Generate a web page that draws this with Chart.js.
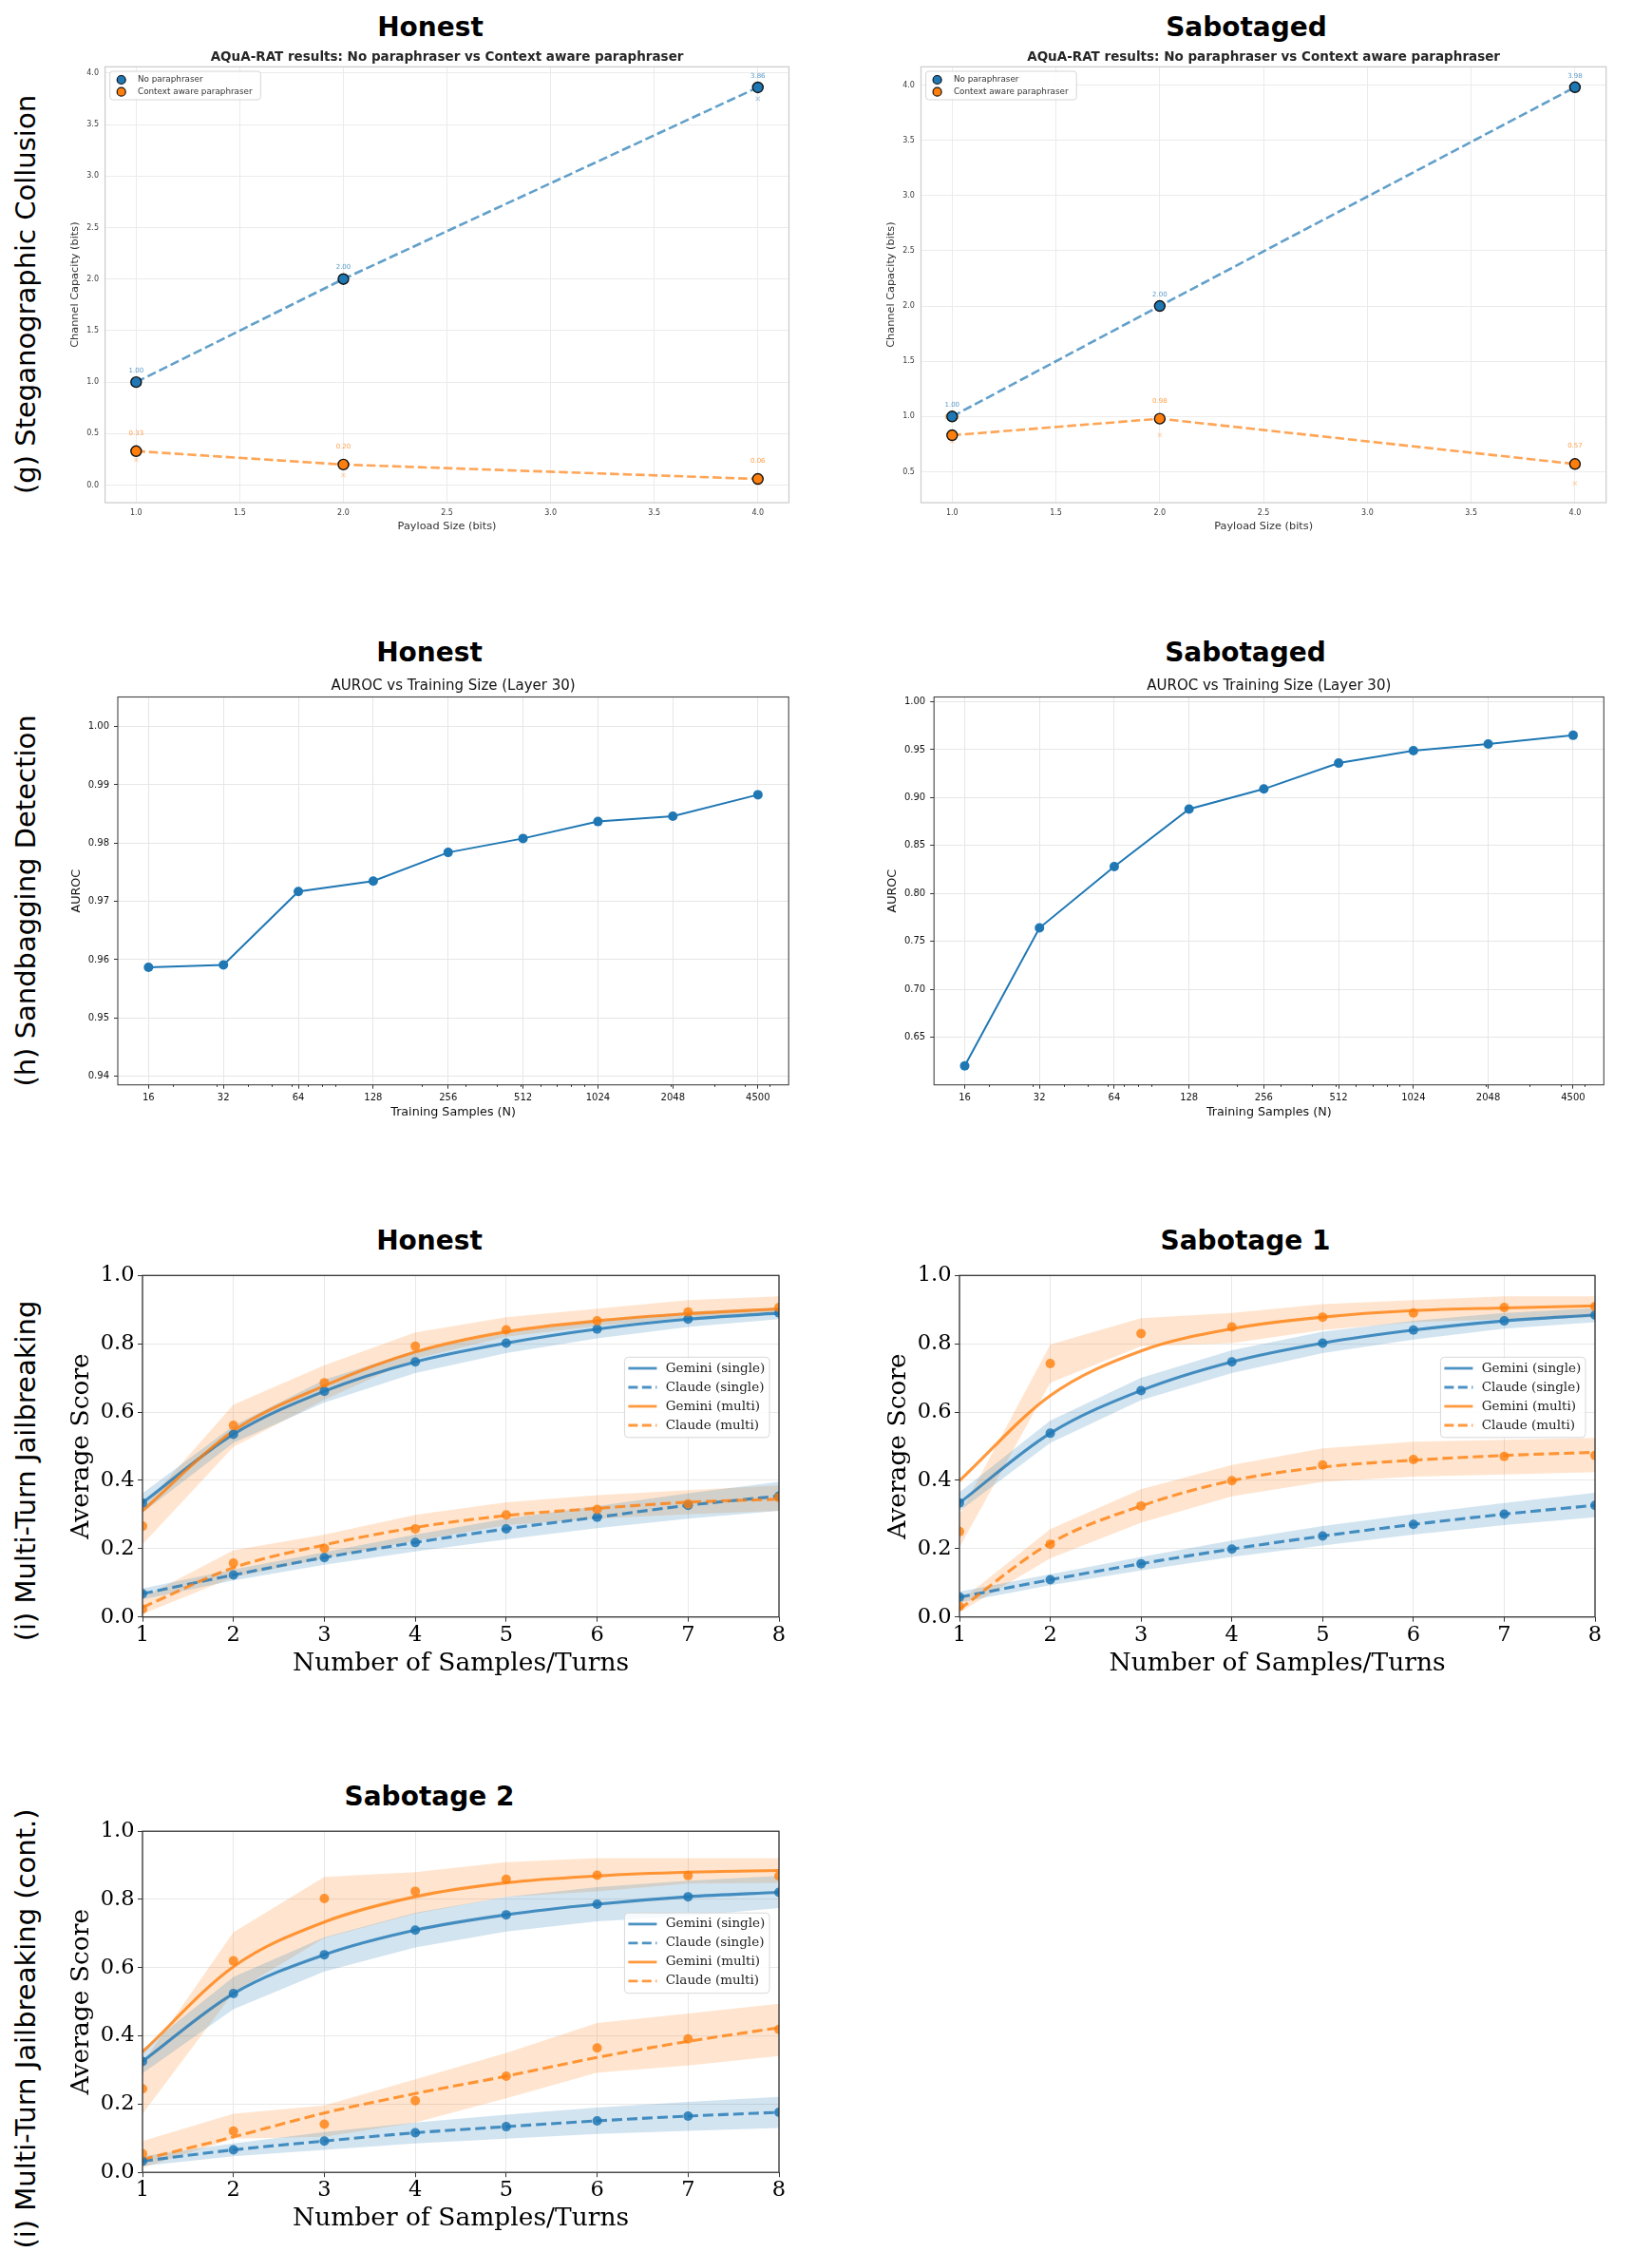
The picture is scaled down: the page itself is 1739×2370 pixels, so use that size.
<!DOCTYPE html>
<html>
<head>
<meta charset="utf-8">
<script src="https://cdn.jsdelivr.net/npm/chart.js@4.4.1/dist/chart.umd.min.js"></script>
<style>
  body { margin: 0; background: #fff; width: 1739px; height: 2370px; position: relative; overflow: hidden; }
  .ptitle { position: absolute; font: bold 28px "DejaVu Sans"; color: #000; white-space: nowrap; transform: translate(-50%, -50%); }
  .rowlabel { position: absolute; font: 29px "DejaVu Sans"; color: #000; white-space: nowrap; transform: translate(-50%, -50%) rotate(-90deg); }
  canvas { position: absolute; }
</style>
</head>
<body>

<div class="rowlabel" style="left:27px;top:310px">(g) Steganographic Collusion</div>
<div class="rowlabel" style="left:27px;top:948px">(h) Sandbagging Detection</div>
<div class="rowlabel" style="left:27px;top:1548px">(i) Multi-Turn Jailbreaking</div>
<div class="rowlabel" style="left:27px;top:2135px">(i) Multi-Turn Jailbreaking (cont.)</div>

<div class="ptitle" style="left:453px;top:28px">Honest</div>
<div class="ptitle" style="left:1312px;top:28px">Sabotaged</div>
<div class="ptitle" style="left:452px;top:686px">Honest</div>
<div class="ptitle" style="left:1311px;top:686px">Sabotaged</div>
<div class="ptitle" style="left:452px;top:1305px">Honest</div>
<div class="ptitle" style="left:1311px;top:1305px">Sabotage 1</div>
<div class="ptitle" style="left:452px;top:1890px">Sabotage 2</div>

<canvas id="capHonest" style="left:40px;top:40px" width="810" height="540"></canvas>
<canvas id="capSab" style="left:900px;top:40px" width="810" height="540"></canvas>
<canvas id="aurocHon" style="left:50px;top:700px" width="800" height="500"></canvas>
<canvas id="aurocSab" style="left:910px;top:700px" width="800" height="500"></canvas>
<canvas id="jbHonest" style="left:60px;top:1320px" width="790" height="450"></canvas>
<canvas id="jbSab1" style="left:920px;top:1320px" width="790" height="450"></canvas>
<canvas id="jbSab2" style="left:60px;top:1905px" width="790" height="450"></canvas>

<script>
// ---- (g) steganographic collusion, AQuA-RAT ----
const payloadBits = [1, 2, 4];
const payloadTicks = [1, 1.5, 2, 2.5, 3, 3.5, 4];
const honNoPara = [1.00, 2.00, 3.86];
const honCtxPara = [0.33, 0.20, 0.06];
const honNoParaX = [null, null, 3.75];     // faint x markers
const honCtxParaX = [0.245, 0.098, 0.02];
const sabNoPara = [1.00, 2.00, 3.98];
const sabCtxPara = [0.83, 0.98, 0.57];
const sabNoParaX = [null, null, null];
const sabCtxParaX = [0.776, 0.833, 0.394];
const capHonTicks = [0, 0.5, 1, 1.5, 2, 2.5, 3, 3.5, 4];
const capSabTicks = [0.5, 1, 1.5, 2, 2.5, 3, 3.5, 4];

// ---- (h) sandbagging detection ----
const trainSizes = [16, 32, 64, 128, 256, 512, 1024, 2048, 4500];
const aurocHonest = [0.9587, 0.9591, 0.9717, 0.9735, 0.9784, 0.9808, 0.9837, 0.9846, 0.9883];
const aurocSabotaged = [0.620, 0.764, 0.828, 0.888, 0.909, 0.936, 0.949, 0.956, 0.965];
const aurocHonTicks = [0.94, 0.95, 0.96, 0.97, 0.98, 0.99, 1.00];
const aurocSabTicks = [0.65, 0.70, 0.75, 0.80, 0.85, 0.90, 0.95, 1.00];
const minorTickVals = [20, 30, 40, 50, 60, 70, 80, 90, 200, 300, 400, 500, 600, 700, 800, 900, 2000, 3000, 4000, 5000];

// ---- (i) multi-turn jailbreaking ----
const turns = [1, 2, 3, 4, 5, 6, 7, 8];
const scoreTicks = [0, 0.2, 0.4, 0.6, 0.8, 1.0];

// Honest
const honGemSingle   = [0.334, 0.535, 0.661, 0.747, 0.802, 0.843, 0.872, 0.890];
const honGemSingleLo = [0.305, 0.510, 0.628, 0.714, 0.773, 0.816, 0.849, 0.872];
const honGemSingleHi = [0.362, 0.560, 0.695, 0.779, 0.831, 0.868, 0.893, 0.906];
const honClaSingle   = [0.068, 0.123, 0.174, 0.218, 0.258, 0.292, 0.327, 0.354];
const honClaSingleLo = [0.051, 0.107, 0.153, 0.192, 0.227, 0.260, 0.288, 0.311];
const honClaSingleHi = [0.083, 0.139, 0.190, 0.241, 0.288, 0.325, 0.362, 0.396];
const honGemMultiDots = [0.266, 0.561, 0.686, 0.793, 0.841, 0.867, 0.893, 0.906];
const honGemMultiFit  = [0.311, 0.545, 0.677, 0.776, 0.835, 0.867, 0.888, 0.902];
const honGemMultiLo   = [0.213, 0.498, 0.636, 0.756, 0.821, 0.852, 0.877, 0.890];
const honGemMultiHi   = [0.320, 0.622, 0.737, 0.833, 0.878, 0.903, 0.928, 0.939];
const honClaMultiDots = [0.023, 0.158, 0.201, 0.258, 0.299, 0.315, 0.331, 0.350];
const honClaMultiFit  = [0.028, 0.144, 0.211, 0.262, 0.297, 0.318, 0.336, 0.345];
const honClaMultiLo   = [0.009, 0.116, 0.172, 0.223, 0.269, 0.288, 0.301, 0.311];
const honClaMultiHi   = [0.056, 0.195, 0.241, 0.299, 0.336, 0.357, 0.371, 0.385];

// Sabotage 1
const s1GemSingle   = [0.334, 0.538, 0.663, 0.747, 0.802, 0.840, 0.867, 0.884];
const s1GemSingleLo = [0.310, 0.510, 0.635, 0.714, 0.773, 0.812, 0.844, 0.863];
const s1GemSingleHi = [0.365, 0.575, 0.700, 0.781, 0.835, 0.867, 0.890, 0.904];
const s1ClaSingle   = [0.058, 0.109, 0.156, 0.199, 0.237, 0.271, 0.301, 0.327];
const s1ClaSingleLo = [0.042, 0.093, 0.136, 0.176, 0.209, 0.241, 0.269, 0.292];
const s1ClaSingleHi = [0.074, 0.125, 0.176, 0.224, 0.266, 0.301, 0.334, 0.364];
const s1GemMultiDots = [0.250, 0.742, 0.830, 0.849, 0.878, 0.890, 0.906, 0.909];
const s1GemMultiFit  = [0.399, 0.648, 0.779, 0.844, 0.878, 0.897, 0.905, 0.911];
const s1GemMultiLo   = [0.204, 0.686, 0.793, 0.802, 0.840, 0.863, 0.872, 0.877];
const s1GemMultiHi   = [0.300, 0.798, 0.875, 0.890, 0.916, 0.928, 0.939, 0.939];
const s1ClaMultiDots = [0.031, 0.213, 0.325, 0.399, 0.445, 0.461, 0.470, 0.473];
const s1ClaMultiFit  = [0.023, 0.216, 0.325, 0.399, 0.439, 0.459, 0.473, 0.482];
const s1ClaMultiLo   = [0.014, 0.172, 0.276, 0.353, 0.396, 0.411, 0.417, 0.424];
const s1ClaMultiHi   = [0.046, 0.257, 0.374, 0.445, 0.494, 0.513, 0.519, 0.524];

// Sabotage 2
const s2GemSingle   = [0.325, 0.524, 0.638, 0.710, 0.755, 0.786, 0.808, 0.821];
const s2GemSingleLo = [0.290, 0.478, 0.589, 0.659, 0.706, 0.736, 0.751, 0.775];
const s2GemSingleHi = [0.360, 0.573, 0.689, 0.761, 0.808, 0.836, 0.855, 0.869];
const s2ClaSingle   = [0.033, 0.066, 0.092, 0.116, 0.134, 0.151, 0.165, 0.176];
const s2ClaSingleLo = [0.019, 0.047, 0.066, 0.085, 0.099, 0.113, 0.122, 0.130];
const s2ClaSingleHi = [0.047, 0.085, 0.118, 0.146, 0.169, 0.190, 0.207, 0.221];
const s2GemMultiDots = [0.245, 0.620, 0.803, 0.824, 0.859, 0.871, 0.870, 0.869];
const s2GemMultiFit  = [0.353, 0.603, 0.734, 0.808, 0.849, 0.869, 0.880, 0.885];
const s2GemMultiLo   = [0.171, 0.527, 0.687, 0.758, 0.808, 0.824, 0.847, 0.849];
const s2GemMultiHi   = [0.320, 0.704, 0.866, 0.880, 0.909, 0.921, 0.921, 0.921];
const s2ClaMultiDots = [0.055, 0.121, 0.141, 0.210, 0.282, 0.365, 0.391, 0.419];
const s2ClaMultiFit  = [0.038, 0.104, 0.174, 0.231, 0.282, 0.337, 0.384, 0.424];
const s2ClaMultiLo   = [0.014, 0.099, 0.104, 0.146, 0.217, 0.292, 0.313, 0.341];
const s2ClaMultiHi   = [0.092, 0.172, 0.196, 0.273, 0.350, 0.438, 0.466, 0.494];

const BLUE = '#1f77b4', ORANGE = '#ff7f0e';
const blueA = a => `rgba(31,119,180,${a})`;
const orangeA = a => `rgba(255,127,14,${a})`;

Chart.defaults.font.family = "'DejaVu Sans', sans-serif";
Chart.defaults.animation = false;

function pts(xs, ys) {
  return xs.map((x, i) => ({ x: x, y: ys[i] })).filter(p => p.y !== null);
}

function axis(o) {
  return {
    type: o.type || 'linear',
    min: o.min, max: o.max,
    afterBuildTicks: s => { s.ticks = o.ticks.map(v => ({ value: v })); },
    afterFit: s => {
      if (o.w !== undefined) s.width = o.w;
      if (o.h !== undefined) s.height = o.h;
    },
    ticks: { autoSkip: false, maxRotation: 0, minRotation: 0, font: o.font, color: o.color, padding: o.pad, callback: o.fmt },
    grid: { color: o.grid, lineWidth: 1, drawTicks: o.tickLen > 0, tickLength: o.tickLen || 0, tickColor: o.tickColor || o.grid, tickWidth: 1 },
    border: { display: false },
    title: { display: true, text: o.title, font: o.titleFont, color: o.titleColor || o.color, padding: o.titlePad }
  };
}

function roundRect(ctx, x, y, w, h, r) {
  ctx.beginPath();
  ctx.moveTo(x + r, y);
  ctx.lineTo(x + w - r, y); ctx.arcTo(x + w, y, x + w, y + r, r);
  ctx.lineTo(x + w, y + h - r); ctx.arcTo(x + w, y + h, x + w - r, y + h, r);
  ctx.lineTo(x + r, y + h); ctx.arcTo(x, y + h, x, y + h - r, r);
  ctx.lineTo(x, y + r); ctx.arcTo(x, y, x + r, y, r);
  ctx.closePath();
}

// per-chart decoration: chart title, full frame, legend, value labels, minor ticks
function decor(cfg) {
  return {
    id: 'decor',
    beforeDatasetsDraw(chart) {
      const ctx = chart.ctx;
      (cfg.valueLabels || []).forEach(l => {
        ctx.save();
        ctx.font = l.font; ctx.fillStyle = l.color;
        ctx.textAlign = 'center'; ctx.textBaseline = 'middle';
        l.xs.forEach((x, i) => {
          const px = chart.scales.x.getPixelForValue(x);
          const py = chart.scales.y.getPixelForValue(l.ys[i]);
          ctx.fillText(l.ys[i].toFixed(2), px, py - l.dy);
        });
        ctx.restore();
      });
    },
    afterDatasetsDraw(chart) {
      const ctx = chart.ctx, a = chart.chartArea;
      ctx.save();
      if (cfg.frame) {
        ctx.strokeStyle = cfg.frame.color; ctx.lineWidth = cfg.frame.width;
        ctx.strokeRect(a.left, a.top, a.right - a.left, a.bottom - a.top);
      }
      if (cfg.minorTicks) {
        ctx.strokeStyle = '#333'; ctx.lineWidth = 1;
        cfg.minorTicks.forEach(v => {
          const px = Math.round(chart.scales.x.getPixelForValue(v)) + 0.5;
          if (px < a.left || px > a.right) return;
          ctx.beginPath(); ctx.moveTo(px, a.bottom); ctx.lineTo(px, a.bottom + 2.2); ctx.stroke();
        });
      }
      if (cfg.title) {
        ctx.font = cfg.title.font; ctx.fillStyle = cfg.title.color;
        ctx.textAlign = 'center'; ctx.textBaseline = 'middle';
        ctx.fillText(cfg.title.text, (a.left + a.right) / 2, cfg.title.y);
      }
      if (cfg.legend) {
        const lg = cfg.legend;
        const x0 = lg.right ? a.right - lg.dx - lg.w : a.left + lg.dx;
        const y0 = a.top + lg.dy;
        roundRect(ctx, x0, y0, lg.w, lg.h, lg.r);
        ctx.fillStyle = 'rgba(255,255,255,0.85)'; ctx.fill();
        ctx.strokeStyle = lg.border; ctx.lineWidth = 1; ctx.stroke();
        ctx.font = lg.font; ctx.textAlign = 'left'; ctx.textBaseline = 'middle';
        lg.items.forEach((it, i) => {
          const cy = y0 + lg.first + i * lg.step;
          if (it.marker) {
            ctx.beginPath(); ctx.arc(x0 + lg.symX, cy, lg.mr, 0, Math.PI * 2);
            ctx.fillStyle = it.color; ctx.fill();
            ctx.strokeStyle = '#111'; ctx.lineWidth = 1.2; ctx.stroke();
          } else {
            ctx.beginPath(); ctx.setLineDash(it.dash || []);
            ctx.moveTo(x0 + lg.symX, cy); ctx.lineTo(x0 + lg.symX + lg.symW, cy);
            ctx.strokeStyle = it.color; ctx.lineWidth = 2.8; ctx.stroke();
            ctx.setLineDash([]);
          }
          ctx.fillStyle = lg.textColor;
          ctx.fillText(it.text, x0 + lg.textX, cy);
        });
      }
      ctx.restore();
    }
  };
}

// ---------- (g) ----------
function capacityChart(id, noPara, ctxPara, noParaX, ctxParaX, yMin, yMax, yTicks, g) {
  const sans = s => ({ family: 'DejaVu Sans', size: s });
  new Chart(document.getElementById(id), {
    type: 'line',
    data: {
      datasets: [
        { data: pts(payloadBits, noPara), showLine: false, pointRadius: 5.5, pointBackgroundColor: BLUE, pointBorderColor: '#111', pointBorderWidth: 1.4, order: 0 },
        { data: pts(payloadBits, ctxPara), showLine: false, pointRadius: 5.5, pointBackgroundColor: ORANGE, pointBorderColor: '#111', pointBorderWidth: 1.4, order: 0 },
        { data: pts(payloadBits, noPara), borderColor: blueA(0.7), borderWidth: 2.6, borderDash: [9.5, 4], pointRadius: 0, order: 1 },
        { data: pts(payloadBits, ctxPara), borderColor: orangeA(0.7), borderWidth: 2.6, borderDash: [9.5, 4], pointRadius: 0, order: 1 },
        { data: pts(payloadBits, noParaX), showLine: false, pointStyle: 'crossRot', pointRadius: 3, pointBorderColor: blueA(0.3), pointBorderWidth: 1.2, order: 2 },
        { data: pts(payloadBits, ctxParaX), showLine: false, pointStyle: 'crossRot', pointRadius: 3, pointBorderColor: orangeA(0.3), pointBorderWidth: 1.2, order: 2 }
      ]
    },
    options: {
      responsive: false,
      layout: { autoPadding: false, padding: g.pad },
      plugins: { legend: { display: false }, tooltip: { enabled: false } },
      scales: {
        x: axis({ min: 0.85, max: 4.15, ticks: payloadTicks, fmt: v => v.toFixed(1), font: sans(8), color: '#3a3a3a', pad: 6,
                  grid: '#ebebeb', title: 'Payload Size (bits)', titleFont: sans(11.3), titleColor: '#333', titlePad: { top: 0, bottom: g.xtp }, h: g.xH }),
        y: axis({ min: yMin, max: yMax, ticks: yTicks, fmt: v => v.toFixed(1), font: sans(8), color: '#3a3a3a', pad: 6.6,
                  grid: '#ebebeb', title: 'Channel Capacity (bits)', titleFont: sans(11.3), titleColor: '#333', titlePad: { top: g.ytp, bottom: 0 }, w: g.yW })
      }
    },
    plugins: [decor({
      frame: { color: '#cccccc', width: 1.25 },
      title: { text: 'AQuA-RAT results: No paraphraser vs Context aware paraphraser', font: "bold 13.5px 'DejaVu Sans'", color: '#262626', y: g.titleY },
      valueLabels: [
        { xs: payloadBits, ys: noPara, color: blueA(0.75), font: "7px 'DejaVu Sans'", dy: 12 },
        { xs: payloadBits, ys: ctxPara, color: orangeA(0.75), font: "7px 'DejaVu Sans'", dy: 18.7 }
      ],
      legend: {
        right: false, dx: 5.1, dy: 4.7, w: 158.6, h: 30, r: 3, border: '#d6d6d6',
        font: "8.8px 'DejaVu Sans'", textColor: '#333', first: 9, step: 12.7, symX: 12, mr: 4.5, textX: 29.3,
        items: [{ marker: true, color: BLUE, text: 'No paraphraser' }, { marker: true, color: ORANGE, text: 'Context aware paraphraser' }]
      }
    })]
  });
}

capacityChart('capHonest', honNoPara, honCtxPara, honNoParaX, honCtxParaX, -0.17, 4.06, capHonTicks,
  { pad: { left: 0, top: 30.3, right: 19.5, bottom: 0 }, yW: 70.6, xH: 51, xtp: 19.2, ytp: 32.7, titleY: 20.3 });
capacityChart('capSab', sabNoPara, sabCtxPara, sabNoParaX, sabCtxParaX, 0.22, 4.165, capSabTicks,
  { pad: { left: 0, top: 30.3, right: 19.3, bottom: 0 }, yW: 69.5, xH: 51, xtp: 19.2, ytp: 31, titleY: 20.3 });

// ---------- (h) ----------
function aurocChart(id, vals, yMin, yMax, yTicks, g) {
  const sans = s => ({ family: 'DejaVu Sans', size: s });
  new Chart(document.getElementById(id), {
    type: 'line',
    data: {
      datasets: [{ data: pts(trainSizes, vals), borderColor: BLUE, borderWidth: 2, pointRadius: 5, pointBackgroundColor: BLUE, pointBorderWidth: 0, tension: 0 }]
    },
    options: {
      responsive: false,
      layout: { autoPadding: false, padding: g.pad },
      plugins: { legend: { display: false }, tooltip: { enabled: false } },
      scales: {
        x: axis({ type: 'logarithmic', min: 12.04, max: 5981, ticks: trainSizes, fmt: v => String(v), font: sans(10), color: '#111', pad: 4,
                  tickLen: 4, tickColor: '#333', grid: '#e6e6e6', title: 'Training Samples (N)', titleFont: sans(12.7), titlePad: { top: 0, bottom: 21.4 }, h: 58.3 }),
        y: axis({ min: yMin, max: yMax, ticks: yTicks, fmt: v => v.toFixed(2), font: sans(10), color: '#111', pad: 5,
                  tickLen: 4, tickColor: '#333', grid: '#e6e6e6', title: 'AUROC', titleFont: sans(12.7), titlePad: { top: g.ytp, bottom: 0 }, w: g.yW })
      }
    },
    plugins: [decor({
      frame: { color: '#444', width: 1.1 },
      minorTicks: minorTickVals,
      title: { text: 'AUROC vs Training Size (Layer 30)', font: "15px 'DejaVu Sans'", color: '#111', y: 22.1 }
    })]
  });
}

aurocChart('aurocHon', aurocHonest, 0.93853, 1.00507, aurocHonTicks,
  { pad: { left: 0, top: 33.5, right: 19.8, bottom: 0 }, yW: 74, ytp: 22.8 });
aurocChart('aurocSab', aurocSabotaged, 0.6003, 1.005, aurocSabTicks,
  { pad: { left: 0, top: 33.5, right: 21.7, bottom: 0 }, yW: 73.2, ytp: 21.8 });

// ---------- (i) ----------
function jailbreakChart(id, s, g) {
  const serif = sz => ({ family: 'DejaVu Serif', size: sz });
  const ds = [];
  const band = (lo, hi, col) => {
    ds.push({ data: pts(turns, lo), borderColor: 'rgba(0,0,0,0)', borderWidth: 0, pointRadius: 0, fill: false, order: 5, clip: 0 });
    ds.push({ data: pts(turns, hi), borderColor: 'rgba(0,0,0,0)', borderWidth: 0, pointRadius: 0, fill: '-1', backgroundColor: col, order: 5, clip: 0 });
  };
  const fit = (ys, col, dash, order) => ds.push({ data: pts(turns, ys), borderColor: col, borderWidth: 3.1, borderDash: dash, pointRadius: 0, cubicInterpolationMode: 'monotone', fill: false, order: order, clip: 0 });
  const dots = (ys, col, order) => ds.push({ data: pts(turns, ys), showLine: false, pointRadius: 5, pointBackgroundColor: col, pointBorderWidth: 0, order: order, clip: 0 });
  const dash = [11, 5];

  band(s.gsLo, s.gsHi, blueA(0.2));
  band(s.csLo, s.csHi, blueA(0.2));
  band(s.gmLo, s.gmHi, orangeA(0.2));
  band(s.cmLo, s.cmHi, orangeA(0.2));
  fit(s.gs, blueA(0.8), [], 3);
  fit(s.cs, blueA(0.8), dash, 3);
  fit(s.gmFit, orangeA(0.8), [], 2);
  fit(s.cmFit, orangeA(0.8), dash, 2);
  dots(s.gs, blueA(0.85), 1);
  dots(s.cs, blueA(0.85), 1);
  dots(s.gmDots, orangeA(0.8), 0);
  dots(s.cmDots, orangeA(0.8), 0);

  new Chart(document.getElementById(id), {
    type: 'line',
    data: { datasets: ds },
    options: {
      responsive: false,
      layout: { autoPadding: false, padding: g.pad },
      plugins: { legend: { display: false }, tooltip: { enabled: false }, filler: { propagate: false } },
      scales: {
        x: axis({ min: 1, max: 8, ticks: turns, fmt: v => String(v), font: serif(22.5), color: '#000', pad: 0.5,
                  tickLen: 5, tickColor: '#333', grid: '#e8e8e8', title: 'Number of Samples/Turns', titleFont: serif(26.5), titlePad: { top: 0, bottom: g.xtp }, h: g.xH }),
        y: axis({ min: 0, max: 1, ticks: scoreTicks, fmt: v => v.toFixed(1), font: serif(22.5), color: '#000', pad: 3.5,
                  tickLen: 5, tickColor: '#333', grid: '#e8e8e8', title: 'Average Score', titleFont: serif(26.5), titlePad: { top: 10.4, bottom: 0 }, w: 90 })
      }
    },
    plugins: [decor({
      frame: { color: '#333', width: 1.3 },
      legend: {
        right: true, dx: 10, dy: 86, w: 152.6, h: 84.5, r: 4, border: '#d8d8d8',
        font: "13.5px 'DejaVu Serif'", textColor: '#222', first: 11.7, step: 20, symX: 4, symW: 30, textX: 43.3,
        items: [
          { color: blueA(0.8), dash: [], text: 'Gemini (single)' },
          { color: blueA(0.8), dash: [10, 4.4], text: 'Claude (single)' },
          { color: orangeA(0.8), dash: [], text: 'Gemini (multi)' },
          { color: orangeA(0.8), dash: [10, 4.4], text: 'Claude (multi)' }
        ]
      }
    })]
  });
}

jailbreakChart('jbHonest', {
  gs: honGemSingle, gsLo: honGemSingleLo, gsHi: honGemSingleHi,
  cs: honClaSingle, csLo: honClaSingleLo, csHi: honClaSingleHi,
  gmDots: honGemMultiDots, gmFit: honGemMultiFit, gmLo: honGemMultiLo, gmHi: honGemMultiHi,
  cmDots: honClaMultiDots, cmFit: honClaMultiFit, cmLo: honClaMultiLo, cmHi: honClaMultiHi
}, { pad: { left: 0, top: 22.3, right: 30, bottom: 0 }, xH: 68.3, xtp: 3 });

jailbreakChart('jbSab1', {
  gs: s1GemSingle, gsLo: s1GemSingleLo, gsHi: s1GemSingleHi,
  cs: s1ClaSingle, csLo: s1ClaSingleLo, csHi: s1ClaSingleHi,
  gmDots: s1GemMultiDots, gmFit: s1GemMultiFit, gmLo: s1GemMultiLo, gmHi: s1GemMultiHi,
  cmDots: s1ClaMultiDots, cmFit: s1ClaMultiFit, cmLo: s1ClaMultiLo, cmHi: s1ClaMultiHi
}, { pad: { left: 0, top: 22.3, right: 31, bottom: 0 }, xH: 68.3, xtp: 3 });

jailbreakChart('jbSab2', {
  gs: s2GemSingle, gsLo: s2GemSingleLo, gsHi: s2GemSingleHi,
  cs: s2ClaSingle, csLo: s2ClaSingleLo, csHi: s2ClaSingleHi,
  gmDots: s2GemMultiDots, gmFit: s2GemMultiFit, gmLo: s2GemMultiLo, gmHi: s2GemMultiHi,
  cmDots: s2ClaMultiDots, cmFit: s2ClaMultiFit, cmLo: s2ClaMultiLo, cmHi: s2ClaMultiHi
}, { pad: { left: 0, top: 22.2, right: 30, bottom: 0 }, xH: 68.8, xtp: 3.5 });
</script>
</body>
</html>
